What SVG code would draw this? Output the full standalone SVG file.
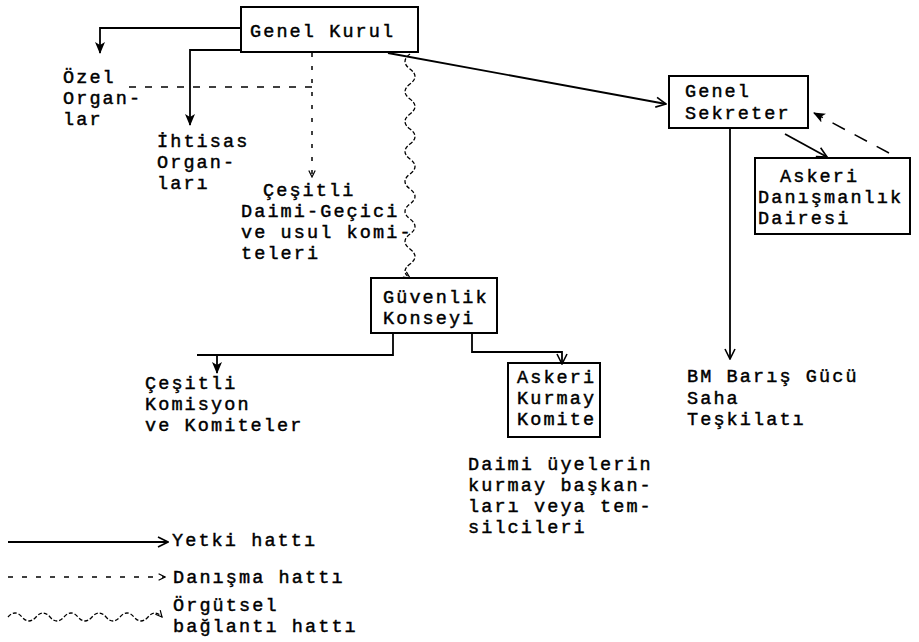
<svg xmlns="http://www.w3.org/2000/svg" width="919" height="642" viewBox="0 0 919 642">
<style>
  .t { font-family: "Liberation Mono", "DejaVu Sans Mono", monospace; font-size: 18.5px; letter-spacing: 2.1px; fill: #000; stroke: #000; stroke-width: 0.45; }
  .box { fill: none; stroke: #000; stroke-width: 2; }
  .solid { fill: none; stroke: #000; stroke-width: 1.8; }
  .dash { fill: none; stroke: #000; stroke-width: 1.5; stroke-dasharray: 7 9; }
  .wavy { fill: none; stroke: #000; stroke-width: 1.3; stroke-dasharray: 4 2; }
</style>
<defs>
  <marker id="open" viewBox="0 0 12 12" refX="11" refY="6" markerWidth="12" markerHeight="12" markerUnits="userSpaceOnUse" orient="auto">
    <path d="M1,1 L11,6 L1,11" fill="none" stroke="#000" stroke-width="1.6"/>
  </marker>
  <marker id="fill" viewBox="0 0 12 12" refX="11" refY="6" markerWidth="12" markerHeight="12" markerUnits="userSpaceOnUse" orient="auto">
    <path d="M0,1 L12,6 L0,11 L3,6 Z" fill="#000"/>
  </marker>
  <marker id="small" viewBox="0 0 10 10" refX="9" refY="5" markerWidth="8" markerHeight="8" markerUnits="userSpaceOnUse" orient="auto">
    <path d="M1,1 L9,5 L1,9" fill="none" stroke="#000" stroke-width="1.5"/>
  </marker>
</defs>

<g id="connectors">
  <!-- Genel Kurul -> Ozel Organlar -->
  <path class="solid" d="M241,28 H100 V53" marker-end="url(#fill)"/>
  <!-- Genel Kurul -> Ihtisas Organlari -->
  <path class="solid" d="M241,50 H190 V125" marker-end="url(#fill)"/>
  <!-- Genel Kurul -> Cesitli Daimi-Gecici (dashed) -->
  <path class="dash" style="stroke-dasharray:4 9" d="M312,53 V177" marker-end="url(#small)"/>
  <!-- dashed branch to Ozel Organlar -->
  <path class="dash" d="M312,87 H125"/>
  <!-- Genel Kurul -> Guvenlik Konseyi (wavy) -->
  <path class="wavy" d="M410,54 q-10,7.5 0,15 t0,15 t0,15 t0,15 t0,15 t0,15 t0,15 t0,15 t0,15 t0,15 t0,15 t0,15 t0,15 t0,15 t0,14" marker-end="url(#small)"/>
  <!-- Genel Kurul -> Genel Sekreter -->
  <path class="solid" d="M388,53 L666,104" marker-end="url(#open)"/>
  <!-- Genel Sekreter -> Askeri Danismanlik -->
  <path class="solid" d="M785,134 L827,157" marker-end="url(#open)"/>
  <!-- Askeri Danismanlik -> Genel Sekreter (dashed) -->
  <path class="dash" style="stroke-dasharray:14 11" d="M889,153 L814,113" marker-end="url(#fill)"/>
  <!-- Genel Sekreter -> BM -->
  <path class="solid" d="M730,128 V359" marker-end="url(#open)"/>
  <!-- Guvenlik -> Cesitli Komisyon -->
  <path class="solid" d="M393,333 V355 H197"/>
  <path class="solid" d="M217,355 V373" marker-end="url(#fill)"/>
  <!-- Guvenlik -> Askeri Kurmay Komite -->
  <path class="solid" d="M472,333 V352 H562 V364" marker-end="url(#open)"/>
</g>

<g id="genel-kurul">
  <rect class="box" x="241" y="7" width="177" height="45"/>
  <text class="t" x="250" y="37">Genel Kurul</text>
</g>

<g id="ozel-organlar">
  <text class="t" x="63" y="83">Özel<tspan x="63" dy="21">Organ-</tspan><tspan x="63" dy="21">lar</tspan></text>
</g>

<g id="ihtisas-organlari">
  <text class="t" x="157" y="147">İhtisas<tspan x="157" dy="21">Organ-</tspan><tspan x="157" dy="21">ları</tspan></text>
</g>

<g id="cesitli-daimi-gecici">
  <text class="t" x="263" y="196">Çeşitli<tspan x="241" dy="21">Daimi-Geçici</tspan><tspan x="241" dy="21">ve usul komi-</tspan><tspan x="241" dy="21">teleri</tspan></text>
</g>

<g id="guvenlik-konseyi">
  <rect class="box" x="371" y="278" width="126" height="55"/>
  <text class="t" x="383" y="303">Güvenlik<tspan x="383" dy="21">Konseyi</tspan></text>
</g>

<g id="cesitli-komisyon">
  <text class="t" x="145" y="389">Çeşitli<tspan x="145" dy="21">Komisyon</tspan><tspan x="145" dy="21">ve Komiteler</tspan></text>
</g>

<g id="askeri-kurmay-komite">
  <rect class="box" x="508" y="363" width="92" height="74"/>
  <text class="t" x="517" y="383">Askeri<tspan x="517" dy="21">Kurmay</tspan><tspan x="517" dy="21">Komite</tspan></text>
</g>

<g id="daimi-uyeler">
  <text class="t" x="468" y="470">Daimi üyelerin<tspan x="468" dy="21">kurmay başkan-</tspan><tspan x="468" dy="21">ları veya tem-</tspan><tspan x="468" dy="21">silcileri</tspan></text>
</g>

<g id="genel-sekreter">
  <rect class="box" x="669" y="76" width="139" height="52"/>
  <text class="t" x="685" y="97">Genel<tspan x="685" dy="22">Sekreter</tspan></text>
</g>

<g id="askeri-danismanlik">
  <rect class="box" x="755" y="158" width="155" height="76"/>
  <text class="t" x="780" y="182">Askeri<tspan x="758" dy="21">Danışmanlık</tspan><tspan x="758" dy="21">Dairesi</tspan></text>
</g>

<g id="bm-baris-gucu">
  <text class="t" x="687" y="382">BM Barış Gücü<tspan x="687" dy="22">Saha</tspan><tspan x="687" dy="21">Teşkilatı</tspan></text>
</g>

<g id="legend">
  <path class="solid" d="M8,542 H168" marker-end="url(#open)"/>
  <text class="t" x="172" y="546">Yetki hattı</text>
  <path class="dash" style="stroke-dasharray:5 9" d="M8,577 H165" marker-end="url(#small)"/>
  <text class="t" x="173" y="583">Danışma hattı</text>
  <path class="wavy" d="M8,617 q7,-8 14,0 t14,0 t14,0 t14,0 t14,0 t14,0 t14,0 t14,0 t14,0 t14,0 t14,0" marker-end="url(#small)"/>
  <text class="t" x="173" y="611">Örgütsel<tspan x="173" dy="21">bağlantı hattı</tspan></text>
</g>
</svg>
